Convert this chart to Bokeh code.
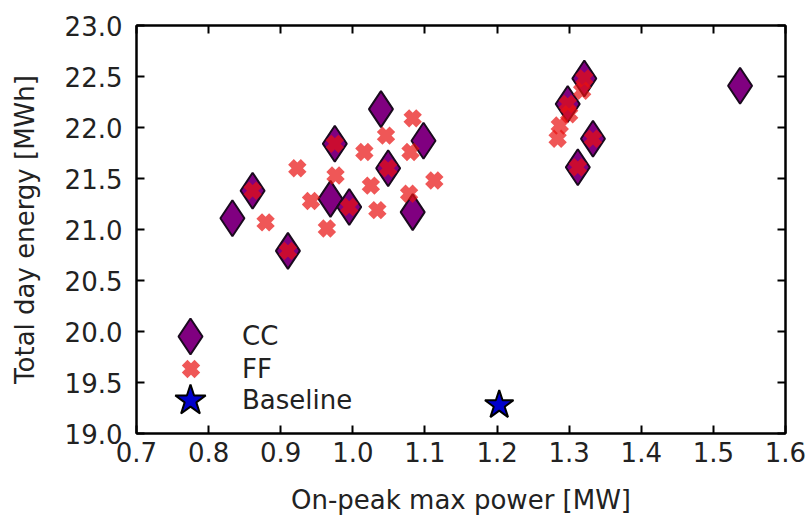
from bokeh.plotting import figure
from bokeh.models import (ColumnDataSource, Legend, LegendItem, LinearAxis,
                          FixedTicker, NumeralTickFormatter, Range1d,
                          CustomLabelingPolicy)
from bokeh.embed import file_html
from bokeh.resources import INLINE

# On-peak max power [MW] vs total day energy [MWh]
cc_power = [0.833, 0.861, 0.910, 0.969, 0.975, 0.995, 1.039, 1.049, 1.098, 1.083,
            1.321, 1.298, 1.333, 1.312, 1.537]
cc_energy = [21.11, 21.38, 20.79, 21.30, 21.84, 21.22, 22.18, 21.60, 21.87, 21.17,
             22.48, 22.23, 21.89, 21.61, 22.41]

ff_power = [0.923, 0.879, 0.942, 0.976, 0.964, 1.016, 1.025, 1.034, 1.046, 1.083,
            1.080, 1.078, 1.113, 0.861, 0.910, 0.975, 0.995, 1.049,
            1.284, 1.287, 1.300, 1.318, 1.321, 1.298, 1.333, 1.312]
ff_energy = [21.60, 21.07, 21.28, 21.53, 21.01, 21.76, 21.43, 21.19, 21.92, 22.09,
             21.76, 21.35, 21.48, 21.38, 20.79, 21.84, 21.22, 21.60,
             21.89, 22.02, 22.13, 22.36, 22.48, 22.23, 21.89, 21.61]

base_power = [1.203]
base_energy = [19.28]

x_ticks = [0.7, 0.8, 0.9, 1.0, 1.1, 1.2, 1.3, 1.4, 1.5, 1.6]
y_ticks = [19.0, 19.5, 20.0, 20.5, 21.0, 21.5, 22.0, 22.5, 23.0]

FONT = "DejaVu Sans"
FS = "26px"
TXT = "#222222"

p = figure(frame_width=649, frame_height=408, output_backend="svg",
           toolbar_location=None,
           x_range=Range1d(0.7, 1.6), y_range=Range1d(19.0, 23.0),
           min_border_left=136, min_border_right=27, min_border_top=25,
           min_border_bottom=97, x_axis_label="On-peak max power [MW]",
           y_axis_label="Total day energy [MWh]")
p.background_fill_color = "white"
p.border_fill_color = "white"
p.outline_line_color = "black"
p.outline_line_width = 2
p.xgrid.visible = False
p.ygrid.visible = False


def style_axis(ax, ticks, labels=True):
    ax.ticker = FixedTicker(ticks=ticks)
    ax.formatter = NumeralTickFormatter(format="0.0")
    ax.axis_line_color = "black"
    ax.axis_line_width = 2
    ax.major_tick_in = 8
    ax.major_tick_out = 0
    ax.major_tick_line_width = 2
    ax.major_tick_line_color = "black"
    ax.minor_tick_line_color = None
    ax.major_label_text_font = FONT
    ax.major_label_text_color = TXT
    if labels:
        ax.major_label_text_font_size = FS
    else:
        # tick marks only on the mirrored sides
        ax.major_label_policy = CustomLabelingPolicy(code="return []")
        ax.major_label_text_font_size = "1px"
        ax.major_label_standoff = 0


style_axis(p.xaxis[0], x_ticks)
style_axis(p.yaxis[0], y_ticks)
p.xaxis[0].major_label_standoff = 8
p.yaxis[0].major_label_standoff = 14
for ax in (p.xaxis[0], p.yaxis[0]):
    ax.axis_label_text_font = FONT
    ax.axis_label_text_font_size = FS
    ax.axis_label_text_font_style = "normal"
    ax.axis_label_text_color = TXT
p.xaxis[0].axis_label_standoff = 20
p.yaxis[0].axis_label_standoff = 22

# mirrored ticks on top and right
top_ax = LinearAxis()
right_ax = LinearAxis()
style_axis(top_ax, x_ticks, labels=False)
style_axis(right_ax, y_ticks, labels=False)
p.add_layout(top_ax, "above")
p.add_layout(right_ax, "right")

cc_src = ColumnDataSource(dict(x=cc_power, y=cc_energy))
ff_src = ColumnDataSource(dict(x=ff_power, y=ff_energy))
base_src = ColumnDataSource(dict(x=base_power, y=base_energy))

cc = p.scatter("x", "y", source=cc_src, marker="diamond", size=36,
               fill_color="#800080", line_color="#1a0a1e", line_width=2)
ff = p.scatter("x", "y", source=ff_src, marker="x", size=18,
               line_color="#e81010", line_alpha=0.7, line_width=8)
base = p.scatter("x", "y", source=base_src, marker="star", size=30,
                 fill_color="#0000cc", line_color="black", line_width=2)


def key(label, rend, glyph, vx, vy, standoff):
    leg = Legend(items=[LegendItem(label=label, renderers=[rend], index=0)],
                 location=(vx, vy), glyph_width=glyph, glyph_height=glyph,
                 label_standoff=standoff, padding=0, margin=0, spacing=0,
                 border_line_color=None, background_fill_alpha=0,
                 label_text_font=FONT, label_text_font_size=FS,
                 label_text_color=TXT)
    p.add_layout(leg)


key("CC", cc, 90, 9, 52, 7)
key("FF", ff, 45, 32, 42, 29)
key("Baseline", base, 80, 14, -7, 12)

open("out.html", "w").write(file_html(p, INLINE))
